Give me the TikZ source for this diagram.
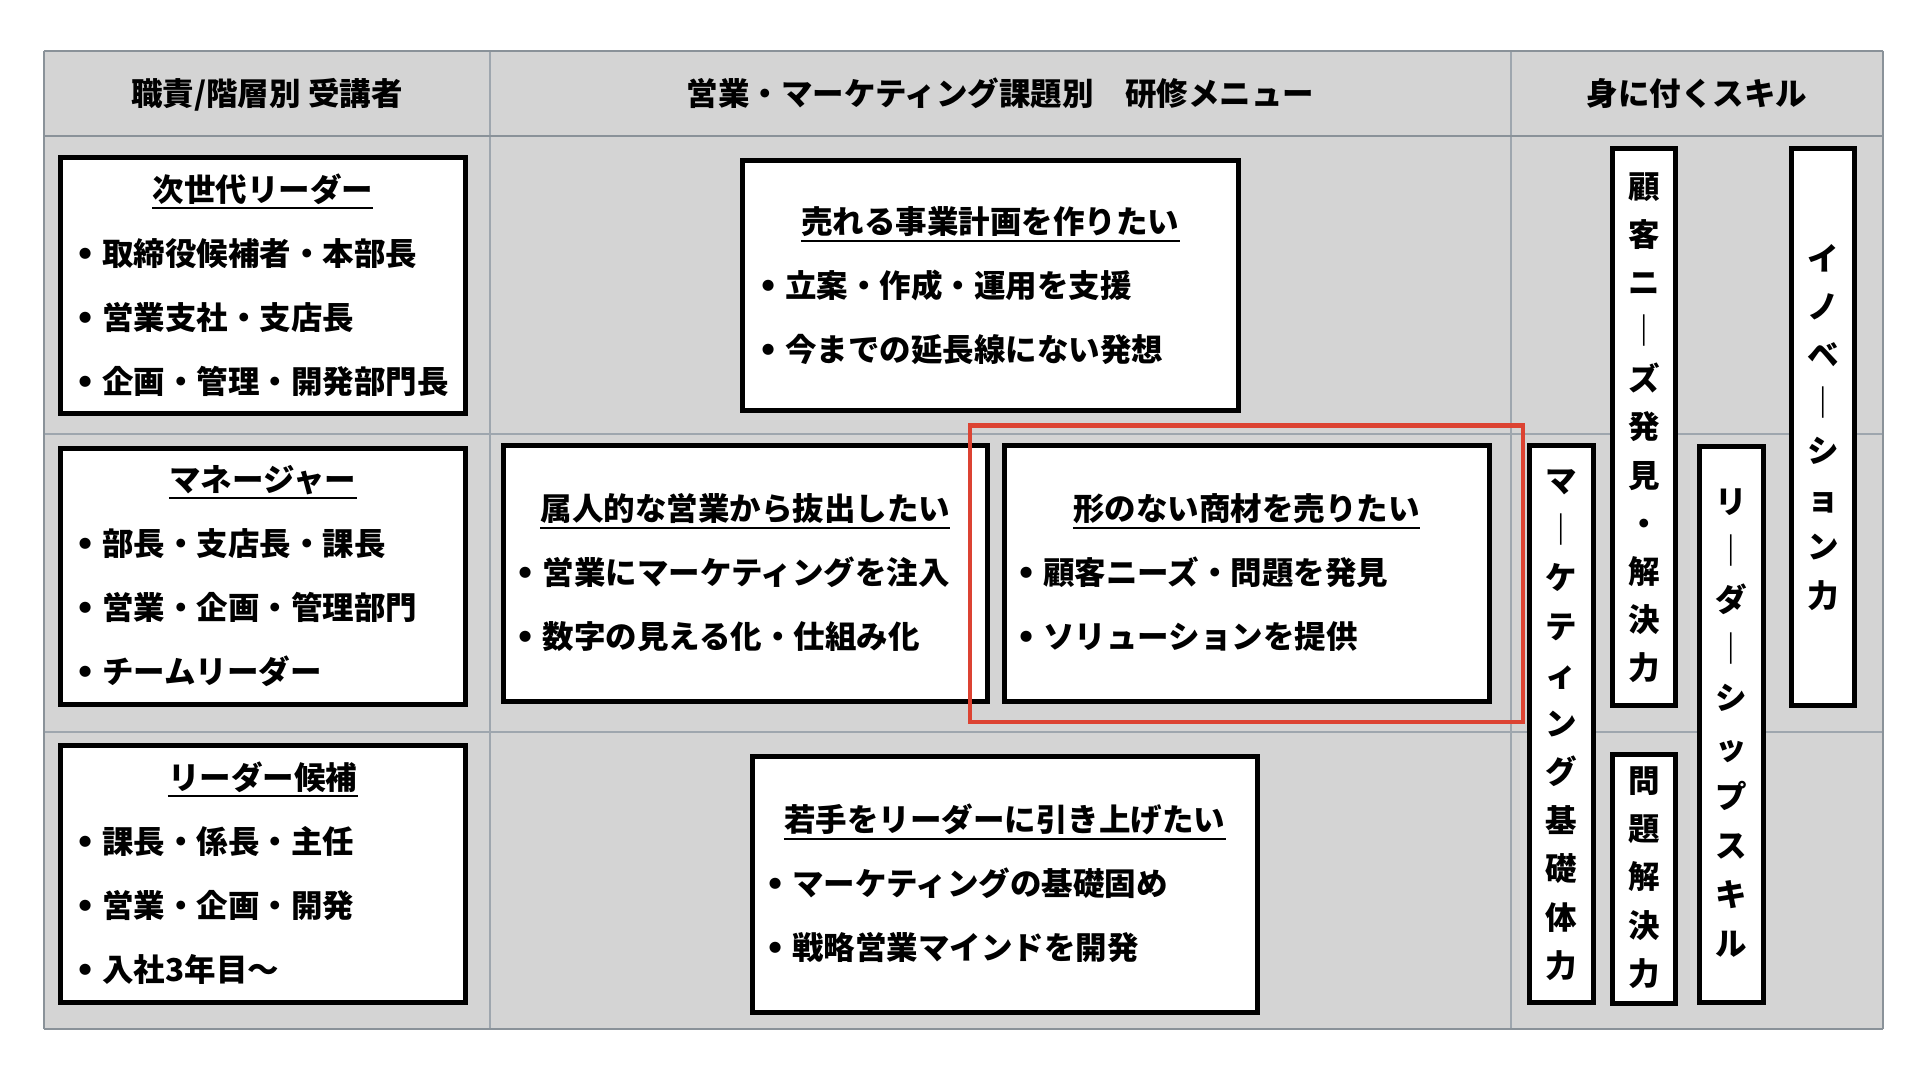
\documentclass[tikz,border=0pt]{standalone}
\usepackage{fontspec}
\setmainfont{Noto Sans CJK JP}
\newfontfamily\dv{DejaVu Sans}
\definecolor{gridfill}{HTML}{D4D4D4}
\definecolor{gridline}{HTML}{8A9299}
\definecolor{gridlight}{HTML}{9EA6AE}
\definecolor{hilite}{HTML}{DC4332}
\newcommand\jpf{\fontsize{15.75pt}{20pt}\selectfont\bfseries}
\newcommand\bul{\llap{{\dv •}\hspace{3.4pt}}}
\begin{document}
\begin{tikzpicture}[x=0.5pt,y=-0.5pt,
  tbox/.style={draw=black,line width=2.5pt,fill=white,inner sep=0pt,outer sep=0pt},
  ttl/.style={font=\jpf,inner sep=0pt,text height=13.86pt,text depth=1.89pt},
  itm/.style={font=\jpf,inner sep=0pt,anchor=west,text height=13.86pt,text depth=1.89pt},
  vch/.style={font=\jpf,inner sep=0pt,text height=13.86pt,text depth=1.89pt},
  hdr/.style={font=\jpf,inner sep=0pt,text height=13.86pt,text depth=1.89pt},
  ul/.style={line width=1pt},
  gl/.style={draw=gridline,line width=1pt},
  glt/.style={draw=gridlight,line width=1pt},
  redbox/.style={draw=hilite,line width=2.2pt}]
\useasboundingbox (0,0) rectangle (1920,1080);
% table background and grid
\fill[gridfill] (44,51) rectangle (1883,1029);
\draw[glt] (44,433.5) -- (1883,433.5);
\draw[glt] (44,732) -- (1883,732);
\draw[glt] (490,51) -- (490,1029);
\draw[glt] (1511,51) -- (1511,1029);
\draw[gl] (44,51) -- (1883,51);
\draw[gl] (44,136) -- (1883,136);
\draw[gl] (44,1029) -- (1883,1029);
\draw[gl] (44,51) -- (44,1029);
\draw[gl] (1883,51) -- (1883,1029);
% headers
\node[hdr] (h1) at (267,93.5) {職責/階層別 受講者};
\node[hdr] (h2) at (1000.5,93.5) {営業・マーケティング課題別　研修メニュー};
\node[hdr] (h3) at (1697,93.5) {身に付くスキル};
% left column boxes
\node[tbox,minimum width=202.75pt,minimum height=127.75pt] (b1) at (262.75,285.75) {};
\node[tbox,minimum width=202.75pt,minimum height=128pt] (b2) at (262.75,576.5) {};
\node[tbox,minimum width=202.75pt,minimum height=128.5pt] (b3) at (262.75,873.5) {};
\node[ttl] (b1t) at (262.75,189.75) {次世代リーダー};
\node[itm] (b1a) at (102,253.75) {\bul 取締役候補者・本部長};
\node[itm] (b1b) at (102,317.75) {\bul 営業支社・支店長};
\node[itm] (b1c) at (102,381.75) {\bul 企画・管理・開発部門長};
\node[ttl] (b2t) at (262.75,479.5) {マネージャー};
\node[itm] (b2a) at (102,543.5) {\bul 部長・支店長・課長};
\node[itm] (b2b) at (102,607.5) {\bul 営業・企画・管理部門};
\node[itm] (b2c) at (102,671.5) {\bul チームリーダー};
\node[ttl] (b3t) at (262.75,777.5) {リーダー候補};
\node[itm] (b3a) at (102,841.5) {\bul 課長・係長・主任};
\node[itm] (b3b) at (102,905.5) {\bul 営業・企画・開発};
\node[itm] (b3c) at (102,969.5) {\bul 入社3年目〜};
% middle column boxes
\node[tbox,minimum width=248.25pt,minimum height=124.5pt] (m1) at (990.25,285.5) {};
\node[tbox,minimum width=241.75pt,minimum height=128.25pt] (m2) at (745.25,573.25) {};
\node[tbox,minimum width=242.5pt,minimum height=128.25pt] (m3) at (1246.5,573.25) {};
\node[tbox,minimum width=252.25pt,minimum height=127.75pt] (m4) at (1004.75,884.25) {};
\node[ttl] (m1t) at (990.25,222) {売れる事業計画を作りたい};
\node[itm] (m1a) at (785,286) {\bul 立案・作成・運用を支援};
\node[itm] (m1b) at (785,350) {\bul 今までの延長線にない発想};
\node[ttl] (m2t) at (745.25,509) {属人的な営業から抜出したい};
\node[itm] (m2a) at (542.5,573) {\bul 営業にマーケティングを注入};
\node[itm] (m2b) at (542.5,637) {\bul 数字の見える化・仕組み化};
\node[ttl] (m3t) at (1246.5,509) {形のない商材を売りたい};
\node[itm] (m3a) at (1043,573) {\bul 顧客ニーズ・問題を発見};
\node[itm] (m3b) at (1043,637) {\bul ソリューションを提供};
\node[ttl] (m4t) at (1004.75,820) {若手をリーダーに引き上げたい};
\node[itm] (m4a) at (792,884) {\bul マーケティングの基礎固め};
\node[itm] (m4b) at (792,948) {\bul 戦略営業マインドを開発};
% underlines of titles
\foreach \t in {b1t,b2t,b3t,m1t,m2t,m3t,m4t}
  \draw[ul] ([yshift=-1.2pt]\t.south west) -- ([yshift=-1.2pt]\t.south east);
% skill column (vertical text)
\node[tbox,minimum width=31.5pt,minimum height=278.5pt] (v1) at (1644,427) {};
\node[tbox,minimum width=31.75pt,minimum height=278.25pt] (v2) at (1822.75,427.25) {};
\node[tbox,minimum width=32pt,minimum height=278.5pt] (v3) at (1561,724) {};
\node[tbox,minimum width=32pt,minimum height=278.25pt] (v4) at (1731.5,724.25) {};
\node[tbox,minimum width=31.5pt,minimum height=124.75pt] (v5) at (1644,878.75) {};
\foreach \c [count=\i] in {顧,客,ニ,｜,ズ,発,見,・,解,決,力}
  \node[vch] (v1c\i) at (1644,{427+(\i-6)*48.05}) {\c};
\foreach \c [count=\i] in {イ,ノ,ベ,｜,シ,ョ,ン,力}
  \node[vch] (v2c\i) at (1822.75,{426.7+(\i-4.5)*48.1}) {\c};
\foreach \c [count=\i] in {マ,｜,ケ,テ,ィ,ン,グ,基,礎,体,力}
  \node[vch] (v3c\i) at (1561,{723.5+(\i-6)*48.5}) {\c};
\foreach \c [count=\i] in {リ,｜,ダ,｜,シ,ッ,プ,ス,キ,ル}
  \node[vch] (v4c\i) at (1731.5,{722.5+(\i-5.5)*49.2}) {\c};
\foreach \c [count=\i] in {問,題,解,決,力}
  \node[vch] (v5c\i) at (1644,{877+(\i-3)*48.1}) {\c};
% highlight
\draw[redbox] (970,425.5) rectangle (1523,722);
\end{tikzpicture}
\end{document}
